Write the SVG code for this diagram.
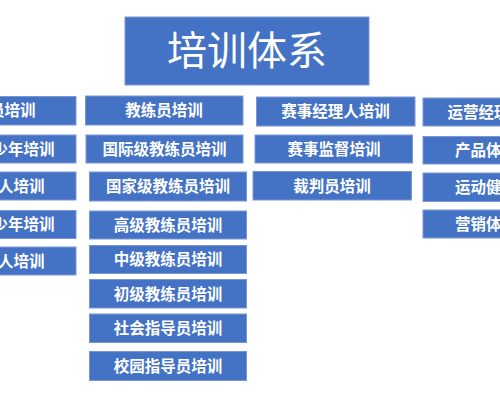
<svg xmlns="http://www.w3.org/2000/svg" width="500" height="400" viewBox="0 0 500 400">
<style>
.b{fill:#4472C4;stroke:#7b97d3;stroke-width:1}
.t{fill:#ffffff;font-family:"Noto Sans CJK SC","Noto Sans",sans-serif;font-size:15.5px;font-weight:bold;text-anchor:middle}
.e{text-anchor:end}
.s{text-anchor:start}
.h{fill:#ffffff;font-family:"Noto Sans CJK SC","Noto Sans",sans-serif;font-size:40px;text-anchor:middle}
</style>
<rect width="500" height="400" fill="#ffffff"/>
<g id="title"><rect class="b" x="125" y="17" width="244" height="68"/><text class="h" x="247" y="65">培训体系</text></g>
<g id="c1">
<g id="c1n1"><rect class="b" x="-10" y="96.5" width="86" height="28.5"/><text class="t e" x="35.5" y="116">员培训</text></g>
<g id="c1n2"><rect class="b" x="-10" y="135" width="86" height="28"/><text class="t e" x="54.5" y="154.5">少年培训</text></g>
<g id="c1n3"><rect class="b" x="-10" y="172" width="86" height="28"/><text class="t e" x="44.5" y="191.5">人培训</text></g>
<g id="c1n4"><rect class="b" x="-10" y="210.5" width="86" height="28"/><text class="t e" x="54.5" y="230">少年培训</text></g>
<g id="c1n5"><rect class="b" x="-10" y="247" width="86" height="28"/><text class="t e" x="44.5" y="266.5">人培训</text></g>
</g>
<g id="c2">
<g id="n教练员"><rect class="b" x="85.5" y="96" width="157.5" height="29"/><text class="t" x="164" y="116">教练员培训</text></g>
<g id="n国际级"><rect class="b" x="86" y="135" width="157" height="28"/><text class="t" x="164.5" y="154.5">国际级教练员培训</text></g>
<g id="n国家级"><rect class="b" x="89.5" y="172" width="157" height="29"/><text class="t" x="168" y="192">国家级教练员培训</text></g>
<g id="n高级"><rect class="b" x="89.5" y="211" width="157" height="28"/><text class="t" x="168" y="230.5">高级教练员培训</text></g>
<g id="n中级"><rect class="b" x="89.5" y="245.5" width="157" height="28"/><text class="t" x="168" y="265">中级教练员培训</text></g>
<g id="n初级"><rect class="b" x="89.5" y="279.5" width="157" height="28.5"/><text class="t" x="168" y="299.5">初级教练员培训</text></g>
<g id="n社会"><rect class="b" x="89.5" y="314" width="157" height="28.5"/><text class="t" x="168" y="334">社会指导员培训</text></g>
<g id="n校园"><rect class="b" x="89.5" y="351.5" width="157" height="29"/><text class="t" x="168" y="371.5">校园指导员培训</text></g>
</g>
<g id="c3">
<g id="n赛事经理人"><rect class="b" x="256.5" y="97" width="158.5" height="29"/><text class="t" x="335.5" y="117">赛事经理人培训</text></g>
<g id="n赛事监督"><rect class="b" x="255" y="135" width="157.5" height="28"/><text class="t" x="334" y="154.5">赛事监督培训</text></g>
<g id="n裁判员"><rect class="b" x="253" y="171.5" width="158.5" height="28.5"/><text class="t" x="332" y="191.5">裁判员培训</text></g>
</g>
<g id="c4">
<g id="n运营经理"><rect class="b" x="423" y="98" width="100" height="28"/><text class="t s" x="447.5" y="117.5">运营经理</text></g>
<g id="n产品体"><rect class="b" x="423" y="136.5" width="100" height="27.5"/><text class="t s" x="455" y="156">产品体</text></g>
<g id="n运动健"><rect class="b" x="423" y="173" width="100" height="28.5"/><text class="t s" x="455" y="193">运动健</text></g>
<g id="n营销体"><rect class="b" x="423" y="210" width="100" height="28"/><text class="t s" x="455" y="229.5">营销体</text></g>
</g>
<g id="connectors"></g>
</svg>
